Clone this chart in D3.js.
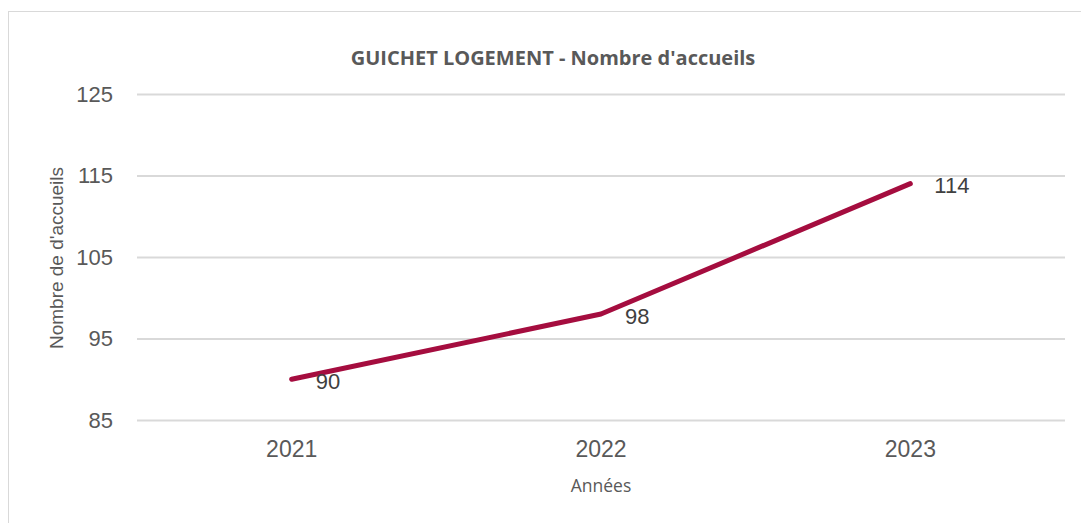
<!DOCTYPE html>
<html><head><meta charset="utf-8">
<script src="https://cdn.jsdelivr.net/npm/d3@7"></script>
<style>body{margin:0;background:#fff;} svg{display:block;}</style>
</head><body>
<svg id="c" width="1081" height="523"></svg>
<script>
const years = ["2021", "2022", "2023"];
const values = [90, 98, 114];
const yTicks = [85, 95, 105, 115, 125];
const title = "GUICHET LOGEMENT - Nombre d'accueils";
const yTitle = "Nombre de d'accueils";
const xTitle = "Années";

const svg = d3.select("#c");
svg.append("rect").attr("x", 8.5).attr("y", 11.5).attr("width", 1090).attr("height", 530)
  .attr("fill", "#fff").attr("stroke", "#d9d9d9").attr("stroke-width", 1);

const L = 137, R = 1065, T = 94, B = 420;
const x = d3.scaleBand().domain(years).range([L, R]);
const y = d3.scaleLinear().domain([85, 125]).range([B, T]);
const font = "Liberation Sans, Arial, sans-serif";

// grid
const gy = svg.append("g").attr("transform", `translate(${L},0)`)
  .call(d3.axisLeft(y).tickValues(yTicks).tickSize(-(R - L)).tickPadding(24).tickFormat(d3.format("d")));
gy.select(".domain").remove();
gy.selectAll(".tick line").attr("stroke", "#d9d9d9").attr("stroke-width", 2);
gy.selectAll(".tick text").attr("fill", "#595959").style("font-family", font).style("font-size", "22px");

const gx = svg.append("g").attr("transform", `translate(0,${B})`)
  .call(d3.axisBottom(x).tickSize(0).tickPadding(21));
gx.select(".domain").remove();
gx.selectAll(".tick text").attr("fill", "#595959").style("font-family", font).style("font-size", "23px");

const cx = d => x(d) + x.bandwidth() / 2;
const line = d3.line().x((d, i) => cx(years[i])).y(d => y(d));
svg.append("path").datum(values).attr("d", line).attr("fill", "none")
  .attr("stroke", "#a50d3f").attr("stroke-width", 5).attr("stroke-linecap", "round").attr("stroke-linejoin", "round");

svg.selectAll(".lbl").data(values).enter().append("text")
  .attr("x", (d, i) => cx(years[i]) + 24).attr("y", d => y(d) + 2).attr("dy", "0.35em")
  .attr("fill", "#404040").style("font-family", font).style("font-size", "22px")
  .text(d => d);

svg.append("text").attr("x", 553).attr("y", 65).attr("text-anchor", "middle")
  .attr("fill", "#595959").style("font-family", "Open Sans, sans-serif").style("font-weight", "bold").style("font-size", "20px")
  .text(title);

svg.append("text").attr("transform", "translate(63,258) rotate(-90)").attr("text-anchor", "middle")
  .attr("fill", "#595959").style("font-family", font).style("font-size", "19px")
  .text(yTitle);

svg.append("text").attr("x", 601).attr("y", 492).attr("text-anchor", "middle")
  .attr("fill", "#595959").style("font-family", "Open Sans, sans-serif").style("font-size", "17.5px")
  .text(xTitle);
</script>
</body></html>
